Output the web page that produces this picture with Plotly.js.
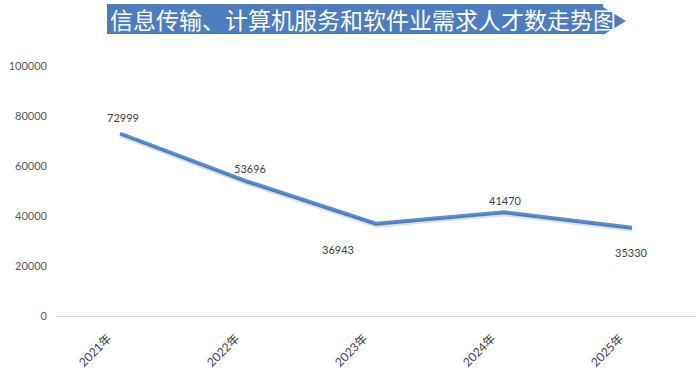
<!DOCTYPE html>
<html>
<head>
<meta charset="utf-8">
<script src="https://cdn.plot.ly/plotly-3.0.1.min.js"></script>
<style>html,body{margin:0;padding:0;background:#fff;}#chart{width:700px;height:375px;}</style>
</head>
<body>
<div id="chart"></div>
<script>
const categories = ['2021年', '2022年', '2023年', '2024年', '2025年'];
const demand = [72999, 53696, 36943, 41470, 35330];
const yTicks = [0, 20000, 40000, 60000, 80000, 100000];
const chartTitle = '信息传输、计算机服务和软件业需求人才数走势图';

// label offsets in pixels (style only)
const labelShiftX = [3, 2, -38, 1, -1];
const labelShiftY = [16, 13, -26, 12, -25];

const W = 700, H = 375;
const mL = 56, mR = 4, mT = 66, mB = 59;
const pw = W - mL - mR, ph = H - mT - mB;
function px(x) { return (x - mL) / pw; }
function py(y) { return (H - mB - y) / ph; }

const shadow = {
  x: categories, y: demand, type: 'scatter', mode: 'lines',
  line: {color: 'rgba(0,0,0,0.13)', width: 4},
  hoverinfo: 'skip', showlegend: false, xaxis: 'x', yaxis: 'y2'
};
const main = {
  x: categories, y: demand, type: 'scatter', mode: 'lines',
  line: {color: '#5593d6', width: 4},
  showlegend: false
};

const bannerPath = `M ${px(107)} ${py(4)} L ${px(603)} ${py(4)} L ${px(603)} ${py(7)} L ${px(626)} ${py(21)} L ${px(603)} ${py(35)} L ${px(603)} ${py(34)} L ${px(107)} ${py(34)} Z`;

const annotations = demand.map((v, i) => ({
  x: categories[i], y: v, xref: 'x', yref: 'y', text: String(v), showarrow: false,
  xshift: labelShiftX[i], yshift: labelShiftY[i],
  font: {family: 'Lato, "Open Sans", sans-serif', size: 11, color: '#404040'}
}));
annotations.push({
  text: chartTitle, xref: 'paper', yref: 'paper', x: px(108), y: py(19),
  xanchor: 'left', yanchor: 'middle', showarrow: false,
  font: {family: '"Noto Sans CJK SC", sans-serif', size: 23, color: '#ffffff'}
});

const layout = {
  width: W, height: H,
  margin: {l: mL, r: mR, t: mT, b: mB},
  paper_bgcolor: '#fff', plot_bgcolor: '#fff',
  showlegend: false,
  xaxis: {
    type: 'category', range: [-0.5, 4.5], showgrid: false, zeroline: false,
    showline: false, ticks: '', tickangle: -45,
    ticklabelshift: -12, ticklabelstandoff: 12,
    tickfont: {family: 'Lato, "Noto Sans CJK SC", sans-serif', size: 12, color: '#404040'}
  },
  yaxis: {
    range: [0, 100000], tickvals: yTicks, ticktext: yTicks.map(String),
    showgrid: false, zeroline: true, zerolinecolor: '#d9d9d9', zerolinewidth: 1,
    showline: false, ticks: '', ticklabelstandoff: 8,
    tickfont: {family: 'Lato, "Open Sans", sans-serif', size: 11, color: '#595959'}
  },
  yaxis2: {range: [800, 100800], overlaying: 'y', visible: false},
  shapes: [{
    type: 'path', xref: 'paper', yref: 'paper', path: bannerPath,
    fillcolor: '#4d7cbf', line: {width: 0}, layer: 'below'
  }],
  annotations: annotations
};

Plotly.newPlot('chart', [shadow, main], layout, {displayModeBar: false, staticPlot: true});
</script>
</body>
</html>
